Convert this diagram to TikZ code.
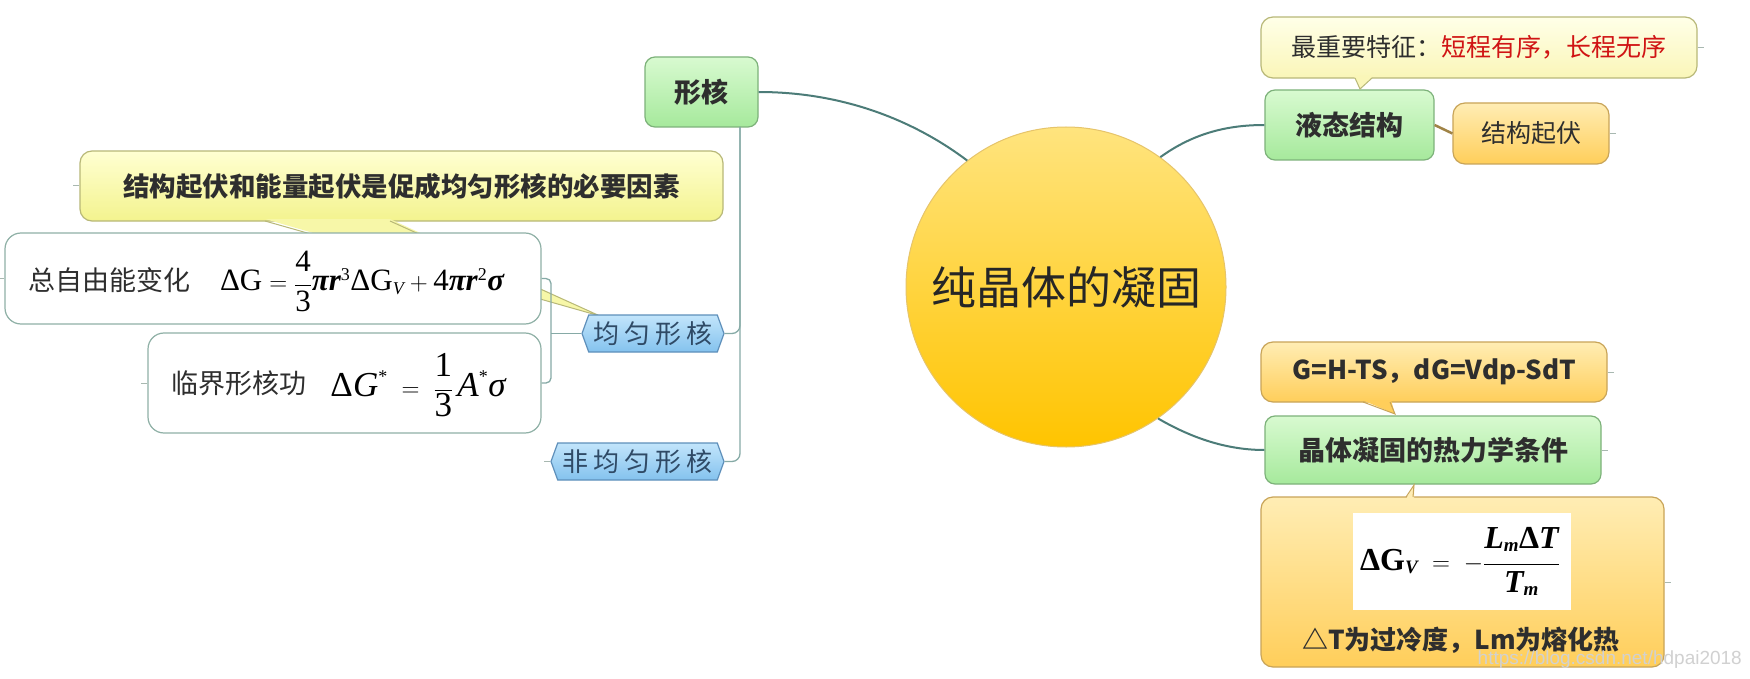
\documentclass[tikz,border=0pt]{standalone}
\usepackage{fontspec}
\newfontfamily\cjk{Noto Sans CJK SC}
\newfontfamily\wm{Liberation Sans}
\newfontfamily\tms{Liberation Serif}
\usetikzlibrary{shapes.symbols}
\newcommand\fmr[1]{\mbox{\tms #1}}
\newcommand\fmi[1]{\mbox{\tms\itshape #1}}
\newcommand\fms[1]{\mbox{\tms\itshape\fontsize{18}{19}\selectfont #1}}
\newcommand\fmrs[1]{\mbox{\tms\fontsize{18}{19}\selectfont #1}}
\newcommand\fmb[1]{\mbox{\tms\bfseries #1}}
\newcommand\fmbi[1]{\mbox{\tms\bfseries\itshape #1}}
\newcommand\fmbs[1]{\mbox{\tms\bfseries\itshape\fontsize{19}{20}\selectfont #1}}
\definecolor{conn}{HTML}{4C7C78}
\definecolor{connl}{HTML}{86AAA6}
\definecolor{stub}{HTML}{A8B8B0}
\definecolor{txt}{HTML}{2E2E2E}
\definecolor{btxt}{HTML}{2F4A66}
\definecolor{redt}{HTML}{D01414}
\definecolor{gtop}{HTML}{D8FAD0}
\definecolor{gbot}{HTML}{A6E99C}
\definecolor{gdraw}{HTML}{7DB27A}
\definecolor{ytop}{HTML}{FFFFD2}
\definecolor{ybot}{HTML}{F3F38E}
\definecolor{ymid}{HTML}{F7F7A8}
\definecolor{ydraw}{HTML}{B8B878}
\definecolor{lytop}{HTML}{FFFFE8}
\definecolor{lybot}{HTML}{FAF6B8}
\definecolor{otop}{HTML}{FFEDB4}
\definecolor{obot}{HTML}{FFCE5A}
\definecolor{odraw}{HTML}{C8A458}
\definecolor{wdraw}{HTML}{8FB0A6}
\definecolor{bltop}{HTML}{C2E5FB}
\definecolor{blbot}{HTML}{84C2EE}
\definecolor{bldraw}{HTML}{5E8FBA}
\definecolor{ctop}{HTML}{FFE47E}
\definecolor{cbot}{HTML}{FFC400}
\definecolor{cdraw}{HTML}{E6C46A}
\tikzset{
  greenbox/.style={draw=gdraw, line width=1.2pt, rounded corners=10pt, top color=gtop, bottom color=gbot, inner sep=0pt, font=\cjk\bfseries\fontsize{27}{30}\selectfont, text=txt},
  ycallout/.style={draw=ydraw, line width=1.2pt, rounded corners=12pt, top color=ytop, bottom color=ybot, inner sep=0pt, font=\cjk\bfseries\fontsize{26.5}{30}\selectfont, text=txt},
  lycallout/.style={draw=ydraw, line width=1.2pt, rounded corners=12pt, top color=lytop, bottom color=lybot, inner sep=0pt, font=\cjk\fontsize{25}{30}\selectfont, text=txt},
  orangebox/.style={draw=odraw, line width=1.2pt, rounded corners=12pt, top color=otop, bottom color=obot, inner sep=0pt, font=\cjk\fontsize{25}{30}\selectfont, text=txt},
  whitebox/.style={draw=wdraw, line width=1.2pt, rounded corners=16pt, fill=white, inner sep=0pt},
  bluehex/.style={signal, signal to=west and east, signal pointer angle=140, draw=bldraw, line width=1.2pt, top color=bltop, bottom color=blbot, inner sep=0pt, minimum height=37pt, font=\cjk\fontsize{26}{28}\selectfont, text=btxt},
  plain/.style={inner sep=0pt, font=\cjk\fontsize{27}{30}\selectfont, text=txt},
  mathtxt/.style={inner sep=0pt, text=black},
  mainconn/.style={draw=conn, line width=2pt},
  subconn/.style={draw=connl, line width=1.3pt},
  stubline/.style={draw=stub, line width=1pt},
}
\begin{document}
\begin{tikzpicture}[x=1pt,y=-1pt]
\useasboundingbox (0,0) rectangle (1750,679);
\fill[white] (0,0) rectangle (1750,679);

% central circle
\node[circle, draw=cdraw, line width=1pt, top color=ctop, bottom color=cbot, minimum size=320pt, inner sep=0pt, font=\cjk\fontsize{45}{50}\selectfont, text=black!85] (c) at (1066,287) {纯晶体的凝固};

% left branch
\node[greenbox, minimum width=113pt, minimum height=70pt] (xing) at (701.5,92) {形核};
\coordinate (tr) at (740,127);

\node[ycallout, minimum width=643pt, minimum height=70pt] (cl1) at (401.5,186) {结构起伏和能量起伏是促成均匀形核的必要因素};
\fill[ymid] (265,219) -- (600,316) -- (390,219) -- cycle;
\draw[draw=ydraw, line width=1pt] (265,221) -- (600,316) -- (390,221);

\node[bluehex, minimum width=142pt] (jy) at (653,333.5) {均\kern5pt 匀\kern5pt 形\kern5pt 核};
\node[bluehex, minimum width=173pt] (fj) at (637.5,461.5) {非\kern5pt 均\kern5pt 匀\kern5pt 形\kern5pt 核};

\node[whitebox, minimum width=536pt, minimum height=91pt] (zz) at (273,278.5) {};
\node[plain] (zzt) at (109.5,280) {总自由能变化};
\node[mathtxt, font=\fontsize{31}{34}\selectfont] (zzf) at (362,281) {$\displaystyle \fmr{ΔG}=\frac{\raisebox{3pt}{\fmr{4}}}{\raisebox{-3pt}{\fmr{3}}}\fmbi{πr}^{\fmrs{3}}\fmr{ΔG}_{\fms{V}}+\fmr{4}\fmbi{πr}^{\fmrs{2}}\fmbi{σ}$};

\node[whitebox, minimum width=393pt, minimum height=100pt] (lj) at (344.5,383) {};
\node[plain] (ljt) at (238.5,383) {临界形核功};
\node[mathtxt, font=\fontsize{35}{38}\selectfont] (ljf) at (418,385) {$\displaystyle \fmr{Δ}\fmi{G}^{\fmrs{*}}\;=\;\frac{\raisebox{3pt}{\fmr{1}}}{\raisebox{-3pt}{\fmr{3}}}\,\fmi{A}^{\fmrs{*}}\fmi{σ}$};

% connectors left
\draw[mainconn] (xing.east) .. controls (850,92) and (920,125) .. (c.128);
\draw[subconn, rounded corners=8pt] (tr) |- (jy.east);
\draw[subconn, rounded corners=8pt] (tr) |- (fj.east);
\draw[subconn, rounded corners=5pt] (zz.east) -- (551,278.5) -- (551,383) -- (lj.east);
\draw[subconn] (jy.west) -- (551,333.5);

% right branch: liquid structure
\node[lycallout, minimum width=436pt, minimum height=61pt] (cl2) at (1479,47.5) {最重要特征：\textcolor{redt}{短程有序，长程无序}};
\node[greenbox, minimum width=169pt, minimum height=70pt] (ye) at (1349.5,125) {液态结构};
\fill[lybot] (1354,76) -- (1360,89) -- (1373,76) -- cycle;
\draw[draw=ydraw, line width=1pt] (1355,78) -- (1360,89) -- (1372,78);
\node[orangebox, minimum width=156pt, minimum height=61pt] (jg) at (1531,133.5) {结构起伏};
\draw[mainconn] (c.54) .. controls (1195,132) and (1230,125) .. (ye.west);
\draw[draw=odraw!80!black, line width=2.5pt] (ye.east) -- (jg.west);

% right branch: thermodynamics
\node[orangebox, minimum width=346pt, minimum height=60pt, font=\cjk\bfseries\fontsize{26}{30}\selectfont] (cl3) at (1434,372) {G=H-TS，dG=Vdp-SdT};
\node[greenbox, minimum width=336pt, minimum height=68pt] (jt) at (1433,450) {晶体凝固的热力学条件};
\fill[obot] (1362,400) -- (1395,414) -- (1391,400) -- cycle;
\draw[draw=odraw, line width=1pt] (1363,402) -- (1395,414) -- (1390,402);
\node[orangebox, minimum width=403pt, minimum height=170pt] (fb) at (1462.5,582) {};
\fill[otop] (1406,499) -- (1414,485) -- (1414,499) -- cycle;
\draw[draw=odraw, line width=1pt] (1406,497) -- (1414,485) -- (1413,497);
\node[fill=white, minimum width=218pt, minimum height=97pt, inner sep=0pt] (fw) at (1462,561.5) {};
\node[mathtxt, font=\fontsize{32}{36}\selectfont] (fwf) at (1460,561.5) {$\displaystyle \fmb{ΔG}_{\fmbs{V}}\;=\;-\frac{\raisebox{5pt}{\fmbi{L}$_{\fmbs{m}}$\fmb{Δ}\fmbi{T}}}{\raisebox{-5pt}{\fmbi{T}$_{\fmbs{m}}$}}$};
\node[plain, font=\cjk\bfseries\fontsize{26}{30}\selectfont] (ft) at (1461,640) {△T为过冷度，Lm为熔化热};
\draw[mainconn] (c.-55) .. controls (1195,440) and (1230,450) .. (jt.west);

% small stubs
\draw[stubline] (cl1.west) -- ++(-6,0);
\draw[stubline] (zz.west) -- ++(-5,0);
\draw[stubline] (lj.west) -- ++(-6,0);
\draw[stubline] (fj.west) -- ++(-6,0);
\draw[stubline] (cl2.east) -- ++(6,0);
\draw[stubline] (jg.east) -- ++(6,0);
\draw[stubline] (cl3.east) -- ++(6,0);
\draw[stubline] (jt.east) -- ++(6,0);
\draw[stubline] (fb.east) -- ++(6,0);

% watermark
\node[inner sep=0pt, font=\wm\fontsize{19}{22}\selectfont, text=black!18, anchor=east] (wmk) at (1742,660) {https://blog.csdn.net/hdpai2018};
\end{tikzpicture}
\end{document}
